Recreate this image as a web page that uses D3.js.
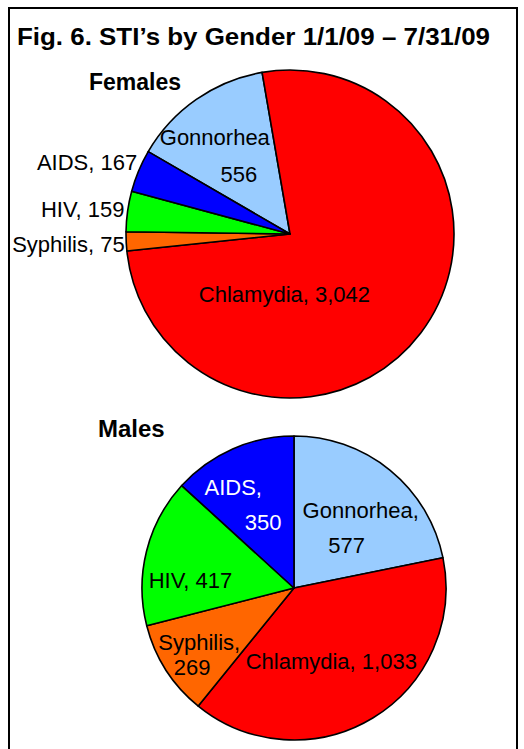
<!DOCTYPE html>
<html>
<head>
<meta charset="utf-8">
<script src="https://cdn.jsdelivr.net/npm/d3@7"></script>
<style>
  body { margin: 0; background: #fff; }
  text { font-family: "Liberation Sans", Arial, sans-serif; }
</style>
</head>
<body>
<div id="chart"></div>
<script>
// data
const categories = ['Gonnorhea', 'Chlamydia', 'Syphilis', 'HIV', 'AIDS'];
const femaleValues = [556, 3042, 75, 159, 167];
const maleValues = [577, 1033, 269, 417, 350];
const sliceColors = ['#99ccff', '#ff0000', '#ff6600', '#00ff00', '#0000ff'];

const width = 524;
const height = 749;
const fmt = d3.format(',');

const svg = d3
  .select('#chart')
  .append('svg')
  .attr('width', width)
  .attr('height', height);

// frame (bottom edge runs off the page)
svg
  .append('rect')
  .attr('x', 9)
  .attr('y', 8)
  .attr('width', 508)
  .attr('height', 800)
  .attr('fill', 'none')
  .attr('stroke', '#000')
  .attr('stroke-width', 2);

svg
  .append('text')
  .attr('x', 17)
  .attr('y', 45)
  .attr('font-size', 24)
  .attr('font-weight', 'bold')
  .attr('textLength', 473)
  .attr('lengthAdjust', 'spacingAndGlyphs')
  .text('Fig. 6. STI\u2019s by Gender 1/1/09 \u2013 7/31/09');

// label placement: nudges from the slice centroid, one per text line
const charts = [
  {
    title: 'Females',
    titleX: 89,
    titleY: 90,
    titleSize: 23,
    values: femaleValues,
    cx: 290,
    cy: 234,
    r: 164,
    start: -59.85,
    labels: [
      { split: true, comma: false, nudge: [[-19, -8], [5, 29]], anchor: 'middle' },
      { split: false, nudge: [[-84, 9]], anchor: 'middle' },
      { split: false, nudge: [[-67, 14]], anchor: 'end' },
      { split: false, nudge: [[-68, -3]], anchor: 'end' },
      { split: false, nudge: [[-62, -26]], anchor: 'end' }
    ],
    textColor: ['#000', '#000', '#000', '#000', '#000']
  },
  {
    title: 'Males',
    titleX: 98,
    titleY: 437,
    titleSize: 24,
    values: maleValues,
    cx: 294,
    cy: 588,
    r: 152,
    start: 0,
    labels: [
      { split: true, comma: true, nudge: [[9, 1], [-5, 36]], anchor: 'middle' },
      { split: false, nudge: [[-10, 3]], anchor: 'middle' },
      { split: true, comma: true, nudge: [[-18, 13], [-25, 38]], anchor: 'middle' },
      { split: false, nudge: [[-15, 22]], anchor: 'middle' },
      { split: true, comma: true, nudge: [[-24, -10], [6, 25]], anchor: 'middle' }
    ],
    textColor: ['#000', '#000', '#000', '#000', '#fff']
  }
];

charts.forEach(function (c) {
  const data = categories.map((name, i) => ({ name: name, value: c.values[i], i: i }));
  const a0 = (c.start * Math.PI) / 180;
  const pie = d3
    .pie()
    .sort(null)
    .value((d) => d.value)
    .startAngle(a0)
    .endAngle(a0 + 2 * Math.PI);
  const arcs = pie(data);
  const arc = d3.arc().innerRadius(0).outerRadius(c.r);
  const labelArc = d3.arc().innerRadius(c.r * 0.6).outerRadius(c.r * 0.6);

  svg
    .append('text')
    .attr('x', c.titleX)
    .attr('y', c.titleY)
    .attr('font-size', c.titleSize)
    .attr('font-weight', 'bold')
    .text(c.title);

  const g = svg.append('g').attr('transform', `translate(${c.cx},${c.cy})`);

  g.selectAll('path')
    .data(arcs)
    .enter()
    .append('path')
    .attr('d', arc)
    .attr('fill', (d) => sliceColors[d.data.i])
    .attr('stroke', '#000')
    .attr('stroke-width', 1.6)
    .attr('stroke-linejoin', 'round');

  arcs.forEach(function (d) {
    const lab = c.labels[d.data.i];
    const lines = lab.split
      ? [d.data.name + (lab.comma ? ',' : ''), fmt(d.data.value)]
      : [d.data.name + ', ' + fmt(d.data.value)];
    const [px, py] = labelArc.centroid(d);
    lines.forEach(function (line, k) {
      g.append('text')
        .attr('x', px + lab.nudge[k][0])
        .attr('y', py + lab.nudge[k][1])
        .attr('text-anchor', lab.anchor)
        .attr('font-size', 22)
        .attr('fill', c.textColor[d.data.i])
        .text(line);
    });
  });
});
</script>
</body>
</html>
